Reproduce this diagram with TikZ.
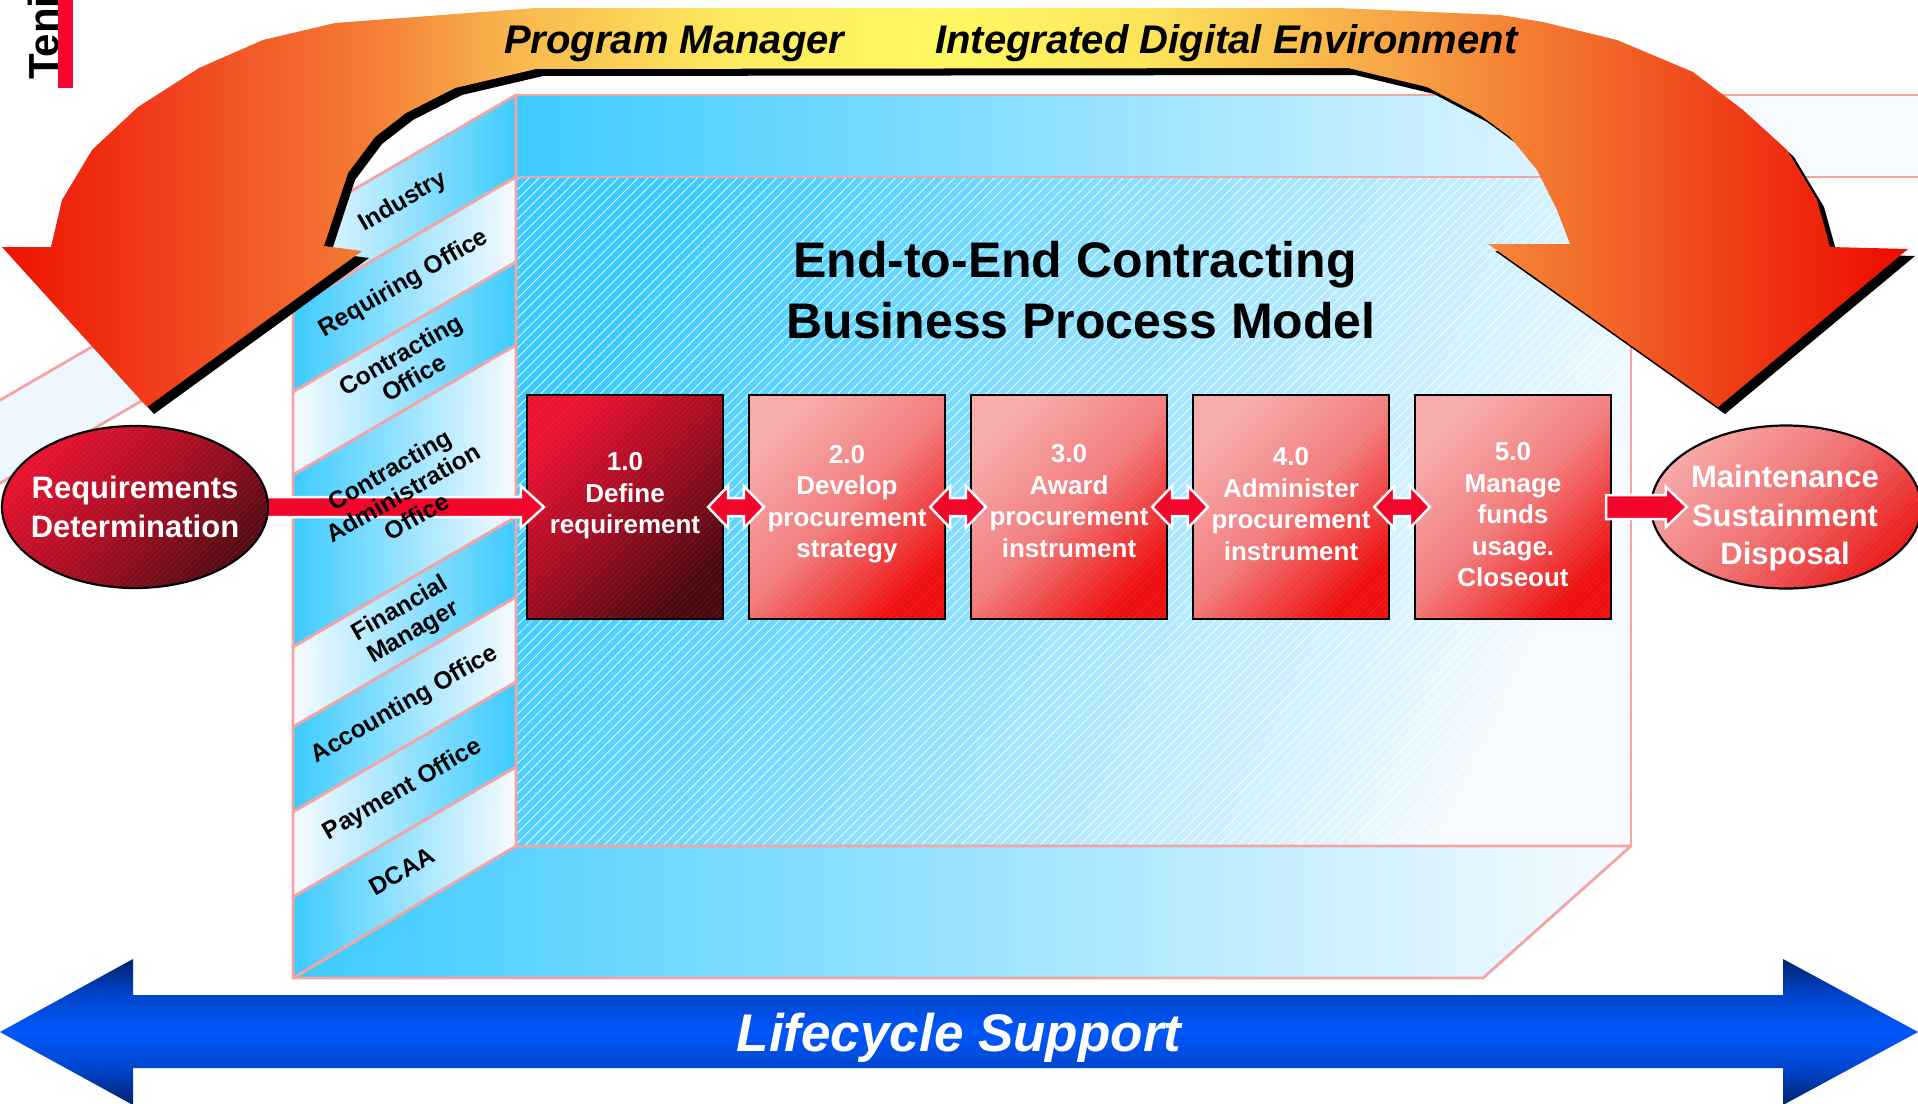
\documentclass[tikz,border=0pt]{standalone}
\usepackage{fontspec}
\setmainfont{Liberation Sans}
\usetikzlibrary{shapes.geometric,calc,patterns.meta}

\definecolor{pinkedge}{HTML}{F4A4A4}
\definecolor{cyanA}{HTML}{3CCBFF}
\definecolor{paleA}{HTML}{F7FBFF}
\definecolor{bandpale}{HTML}{EEF7FD}
\definecolor{redA}{HTML}{F3062C}
\definecolor{darkA}{HTML}{EC1232}
\definecolor{darkM}{HTML}{A00D22}
\definecolor{darkB}{HTML}{4A0810}
\definecolor{lightA}{HTML}{F7ABAB}
\definecolor{lightM}{HTML}{F27C7C}
\definecolor{lightB}{HTML}{EE1010}
\definecolor{ellDA}{HTML}{E8122F}
\definecolor{ellDM}{HTML}{A80E24}
\definecolor{ellDB}{HTML}{560A14}
\definecolor{ellLA}{HTML}{F7A6A6}
\definecolor{ellLM}{HTML}{F07272}
\definecolor{ellLB}{HTML}{EA1C1C}
\definecolor{tb0}{HTML}{EE1200}
\definecolor{tb1}{HTML}{F03C1A}
\definecolor{tb2}{HTML}{F47C35}
\definecolor{tb3}{HTML}{F8B64E}
\definecolor{tb4}{HTML}{FDEB5E}
\definecolor{tb5}{HTML}{FFF862}
\definecolor{tb6}{HTML}{FDE45A}
\definecolor{tb7}{HTML}{F7A545}
\definecolor{tb8}{HTML}{F26A2A}
\definecolor{tb9}{HTML}{EF2C10}
\definecolor{tb10}{HTML}{EE0A00}
\definecolor{bl0}{HTML}{00226E}
\definecolor{bl1}{HTML}{0045CC}
\definecolor{bl2}{HTML}{0058FA}
\definecolor{tenired}{HTML}{FF0033}

\pgfdeclarehorizontalshading{topband}{100bp}{color(0bp)=(tb0); color(25bp)=(tb0); color(28.9bp)=(tb1); color(34.6bp)=(tb2); color(38.4bp)=(tb3); color(44.1bp)=(tb4); color(50bp)=(tb5); color(55bp)=(tb6); color(61.5bp)=(tb7); color(66.7bp)=(tb8); color(71.9bp)=(tb9); color(75bp)=(tb10); color(100bp)=(tb10)}
\pgfdeclareverticalshading{bluebar}{100bp}{color(0bp)=(bl0); color(25bp)=(bl0); color(37.5bp)=(bl1); color(50bp)=(bl2); color(62.5bp)=(bl1); color(75bp)=(bl0); color(100bp)=(bl0)}

\tikzset{
  pinkline/.style={draw=pinkedge, line width=2.8pt, line join=round},
  stripWC/.style={pinkline, left color=paleA, right color=cyanA},
  stripCW/.style={pinkline, left color=cyanA, right color=paleA},
  striplabel/.style={font=\bfseries\fontsize{24.5}{27}\selectfont, rotate=30, align=center, inner sep=0pt, text=black},
  hatchfine/.style={postaction={fill opacity=0.12, pattern={Lines[angle=45,distance=4pt,line width=0.6pt]}, pattern color=white}},
  procbox/.style={draw=black, line width=2.2pt, minimum width=196pt, minimum height=224pt, inner sep=0pt},
  boxdark/.style={procbox, top color=darkA, bottom color=darkB, middle color=darkM, shading angle=45, hatchfine},
  boxlight/.style={procbox, top color=lightA, bottom color=lightB, middle color=lightM, shading angle=45, hatchfine},
  boxtext/.style={font=\bfseries\fontsize{26}{31.5}\selectfont, text=white, align=center, inner sep=0pt},
  ellnode/.style={ellipse, draw=black, line width=2.2pt, inner sep=0pt},
  elltext/.style={font=\bfseries\fontsize{31}{38.5}\selectfont, text=white, align=center, inner sep=0pt},
  redblock/.style={fill=redA, draw=white, line width=2.5pt, line join=miter},
}

\newcommand\dblarrow[2]{%
  \filldraw[redblock] let \p1=($(#1.east)+(-16,0)$), \p2=($(#2.west)+(16,0)$) in
  (\x1,\y1) -- (\x1+20pt,\y1+21pt) -- (\x1+20pt,\y1+9pt) -- (\x2-20pt,\y2+9pt) --
  (\x2-20pt,\y2+21pt) -- (\x2,\y2) -- (\x2-20pt,\y2-21pt) -- (\x2-20pt,\y2-9pt) --
  (\x1+20pt,\y1-9pt) -- (\x1+20pt,\y1-21pt) -- cycle;}

\def\toparrowpath{(2,247) -- (51,247) -- (62,200) -- (92,150) -- (138,107) -- (199,68) -- (263,40) -- (335,23) -- (536,8) -- (1338,8) -- (1500,15) -- (1543,22) -- (1617,40) -- (1693,72) -- (1743,110) -- (1787,150) -- (1817,200) -- (1830,247) -- (1908,249) -- (1718,407) -- (1488,244) -- (1570,244) -- (1557,210) -- (1537,170) -- (1510,137) -- (1480,115) -- (1427,87) -- (1348,68) -- (536,69) -- (455,88) -- (406,113) -- (375,137) -- (348,173) -- (324,246) -- (362,251) -- (147,407) -- cycle}

\begin{document}
\begin{tikzpicture}[x=1pt,y=-1pt]
\useasboundingbox (0,0) rectangle (1918,1103);
\fill[white] (0,0) rectangle (1918,1103);

% far-left band behind
\fill[bandpale] (-10,406) -- (150,313) -- (150,396) -- (-10,489) -- cycle;
\draw[pinkline] (-10,406) -- (150,313);
\draw[pinkline] (-10,489) -- (150,396);

% top (back) band
\shade[left color=cyanA, right color=paleA] (516,95) rectangle (1720,177);
\fill[paleA] (1719,95) rectangle (1930,177);
\draw[pinkline] (516,95) -- (1930,95);
\draw[pinkline] (516,177) -- (1930,177);

% front face
\shade[top color=cyanA, bottom color=paleA, shading angle=65] (516,177) rectangle (1631,846);
\fill[fill opacity=0.14, pattern={Lines[angle=45,distance=7pt,line width=0.7pt]}, pattern color=white] (516,177) rectangle (1631,846);
\draw[pinkline] (516,177) rectangle (1631,846);

% bottom face
\path[pinkline, left color=cyanA, right color=paleA] (516,846) -- (1631,846) -- (1483,978) -- (293,978) -- cycle;

% side panel strips
\path[stripWC] (293,225) -- (516,95) -- (516,177) -- (293,307) -- cycle;
\path[stripCW] (293,307) -- (516,177) -- (516,262) -- (293,392) -- cycle;
\path[stripWC] (293,392) -- (516,262) -- (516,345) -- (293,475) -- cycle;
\path[stripCW] (293,475) -- (516,345) -- (516,517) -- (293,647) -- cycle;
\path[stripWC] (293,647) -- (516,517) -- (516,597) -- (293,727) -- cycle;
\path[stripCW] (293,727) -- (516,597) -- (516,682) -- (293,812) -- cycle;
\path[stripWC] (293,812) -- (516,682) -- (516,767) -- (293,897) -- cycle;
\path[stripCW] (293,897) -- (516,767) -- (516,846) -- (293,978) -- cycle;

% title
\node[font=\bfseries\fontsize{50}{61}\selectfont, anchor=base, inner sep=0pt] (titleA) at (1075,277) {End-to-End Contracting};
\node[font=\bfseries\fontsize{50}{61}\selectfont, anchor=base, inner sep=0pt] (titleB) at (1081,338) {Business Process Model};

% process boxes
\node[boxdark]  (b1) at (625,507) {};
\node[boxlight] (b2) at (847,507) {};
\node[boxlight] (b3) at (1069,507) {};
\node[boxlight] (b4) at (1291,507) {};
\node[boxlight] (b5) at (1513,507) {};
\node[boxtext] (t1) at ($(b1.center)+(0,-11)$) {1.0\\Define\\requirement};
\node[boxtext] (t2) at ($(b2.center)+(0,-3)$) {2.0\\Develop\\procurement\\strategy};
\node[boxtext] (t3) at ($(b3.center)+(0,-6)$) {3.0\\Award\\procurement\\instrument};
\node[boxtext] (t4) at ($(b4.center)+(0,-3)$) {4.0\\Administer\\procurement\\instrument};
\node[boxtext] (t5) at ($(b5.center)+(0,8)$) {5.0\\Manage\\funds\\usage.\\Closeout};

% ellipses
\coordinate (reqc) at (135,507);
\coordinate (maintc) at (1786,507);
\filldraw[redblock] let \p1=(reqc), \p2=($(b1.west)+(18,0)$) in
  (\x1+110pt,\y1+10pt) -- (\x2-23pt,\y1+10pt) -- (\x2-23pt,\y1+21pt) -- (\x2,\y2) --
  (\x2-23pt,\y1-21pt) -- (\x2-23pt,\y1-10pt) -- (\x1+110pt,\y1-10pt) -- cycle;
\node[ellnode, minimum width=266pt, minimum height=162pt, top color=ellDA, bottom color=ellDB, middle color=ellDM, shading angle=45, hatchfine] (req) at (reqc) {};
\node[elltext] (reqT) at (135,507) {Requirements\\Determination};
\node[ellnode, minimum width=270pt, minimum height=163pt, top color=ellLA, bottom color=ellLB, middle color=ellLM, shading angle=45, hatchfine] (maint) at (maintc) {};
\node[elltext] (maintT) at (1785,518) {Maintenance\\Sustainment\\Disposal};
\filldraw[redblock] let \p1=($(b5.east)+(-6,0)$), \p2=($(maint.west)+(37,0)$) in
  (\x1,\y1+12pt) -- (\x2-21pt,\y1+12pt) -- (\x2-21pt,\y1+20pt) -- (\x2,\y2) --
  (\x2-21pt,\y1-20pt) -- (\x2-21pt,\y1-12pt) -- (\x1,\y1-12pt) -- cycle;

% double arrows between process steps
\dblarrow{b1}{b2}
\dblarrow{b2}{b3}
\dblarrow{b3}{b4}
\dblarrow{b4}{b5}

% strip labels
\node[striplabel] (lInd) at (403,202) {Industry};
\node[striplabel] (lReq) at (404,284) {Requiring Office};
\node[striplabel] (lCO) at (407,366) {Contracting\\Office};
\node[striplabel] (lCAO) at (403,493) {Contracting\\Administration\\Office};
\node[striplabel] (lFM) at (407,621) {Financial\\Manager};
\node[striplabel] (lAO) at (405,705) {Accounting Office};
\node[striplabel] (lPO) at (403,790) {Payment Office};
\node[striplabel] (lDC) at (402,871) {DCAA};

% top curved arrow
\fill[black, shift={(7,7)}] \toparrowpath;
\shade[shading=topband] \toparrowpath;
\node[font=\bfseries\itshape\fontsize{40}{48}\selectfont, anchor=base west, inner sep=0pt] (pm) at (504,53) {Program Manager};
\node[font=\bfseries\itshape\fontsize{40}{48}\selectfont, anchor=base west, inner sep=0pt] (ide) at (935,53) {Integrated Digital Environment};

% bottom lifecycle arrow
\shade[shading=bluebar] (0,1032) -- (133,959) -- (133,995) -- (1783,995) -- (1783,959) -- (1918,1032) -- (1783,1105) -- (1783,1068) -- (133,1068) -- (133,1105) -- cycle;
\node[font=\bfseries\itshape\fontsize{53}{60}\selectfont, text=white, anchor=base, inner sep=0pt] (life) at (959,1051) {Lifecycle Support};

% corner mark
\node[font=\bfseries\fontsize{42}{50}\selectfont, rotate=90, anchor=base west, inner sep=0pt] (teni) at (58,80) {Teni};
\fill[tenired] (58,-2) rectangle (73,88);
\end{tikzpicture}
\end{document}
